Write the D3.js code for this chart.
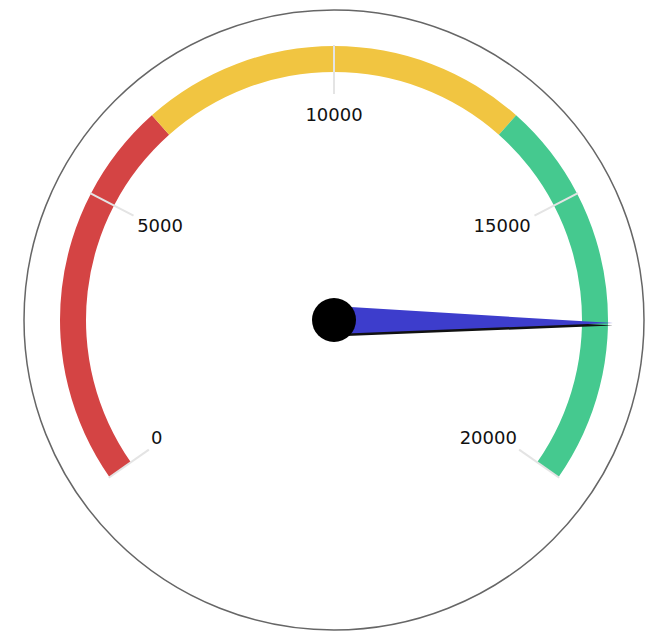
<!DOCTYPE html>
<html>
<head>
<meta charset="utf-8">
<script src="https://cdn.jsdelivr.net/npm/d3@7"></script>
<style>
  body { margin: 0; background: #fff; }
</style>
</head>
<body>
<div id="content"></div>
<script>
// SVG Dimensions.
var width = 648;
var height = 631;
var center = {x : 334, y : 320};

// Data set.
var minValue = 0;
var maxValue = 20000;
var bandStops = [0, 6667, 13333, 20000];
var bandColors = ['#d44444', '#f1c541', '#45c98f'];
var tickValues = [0, 5000, 10000, 15000, 20000];
var needleValue = 17250;

// Create main SVG container.
var svg = d3.select('#content')
              .append('svg')
              .attr('width', width)
              .attr('height', height);

var g = svg.append('g').attr('transform', 'translate(' + center.x + ',' +
                                              center.y + ')');

// Value -> angle (degrees, 0 at top).
var angle = d3.scaleLinear()
                .domain([minValue, maxValue])
                .range([-125, 125]);

function rad(d) { return d * Math.PI / 180; }

// Outer circle.
g.append('circle')
    .attr('r', 310)
    .attr('fill', 'none')
    .attr('stroke', '#666')
    .attr('stroke-width', 1.5);

// Coloured bands.
var arc = d3.arc().innerRadius(248).outerRadius(274);

g.selectAll('.band')
    .data(bandColors)
    .enter()
    .append('path')
    .attr('class', 'band')
    .attr('fill', function(d) { return d; })
    .attr('d', function(d, i) {
      return arc({startAngle : rad(angle(bandStops[i])),
                  endAngle : rad(angle(bandStops[i + 1]))});
    });

// Tick lines.
g.selectAll('.tick')
    .data(tickValues)
    .enter()
    .append('line')
    .attr('class', 'tick')
    .attr('x1', function(d) { return 226 * Math.sin(rad(angle(d))); })
    .attr('y1', function(d) { return -226 * Math.cos(rad(angle(d))); })
    .attr('x2', function(d) { return 275 * Math.sin(rad(angle(d))); })
    .attr('y2', function(d) { return -275 * Math.cos(rad(angle(d))); })
    .attr('stroke', '#e4e4e4')
    .attr('stroke-width', 2);

// Tick labels: left side anchored at start, right side at end.
g.selectAll('.label')
    .data(tickValues)
    .enter()
    .append('text')
    .attr('class', 'label')
    .attr('x', function(d) {
      var a = angle(d);
      return 205 * Math.sin(rad(a)) + 15 * Math.sign(a);
    })
    .attr('y', function(d) { return -205 * Math.cos(rad(angle(d))); })
    .attr('dy', '0.36em')
    .attr('text-anchor', function(d) {
      var a = angle(d);
      return a < 0 ? 'start' : (a > 0 ? 'end' : 'middle');
    })
    .attr('font-family', 'DejaVu Sans, sans-serif')
    .attr('font-size', 18)
    .attr('fill', '#111')
    .text(function(d) { return d; });

// Needle.
var needle = g.append('g')
                 .attr('transform', 'rotate(' + angle(needleValue) + ')');

var needlePath = 'M -14 0 L 0 -279 L 14 0 Z';

needle.append('path')
    .attr('d', needlePath)
    .attr('fill', '#111')
    .attr('transform', 'translate(2.5,0)');

needle.append('path')
    .attr('d', needlePath)
    .attr('fill', '#3d3dcc');

// Hub.
g.append('circle')
    .attr('r', 22)
    .attr('fill', '#000');
</script>
</body>
</html>
